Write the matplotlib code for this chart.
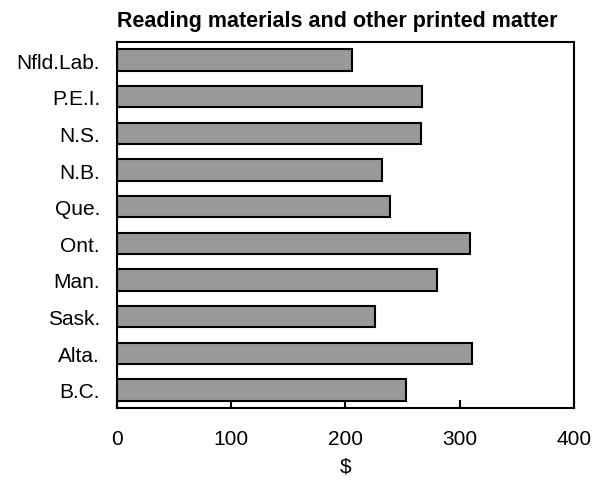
import matplotlib
matplotlib.use("Agg")
import matplotlib.pyplot as plt

provinces = ["Nfld.Lab.", "P.E.I.", "N.S.", "N.B.", "Que.", "Ont.", "Man.", "Sask.", "Alta.", "B.C."]
values = [206, 267, 266, 232, 239, 309, 280, 226, 311, 253]
x_ticks = [0, 100, 200, 300, 400]

plt.rcParams['font.family'] = ['Liberation Sans', 'DejaVu Sans']

fig = plt.figure(figsize=(6.07, 4.81), dpi=100)
ax = fig.add_axes([116.7/607, 1 - 409.3/481, (574 - 116.7)/607, (409.3 - 42.7)/481])

ypos = list(range(len(provinces)))
ax.barh(ypos, values, height=0.58, color="#999999", edgecolor="black", linewidth=1.5)
ax.set_ylim(len(provinces) - 0.5, -0.5)
ax.set_xlim(0, 400)
ax.set_yticks(ypos)
ax.set_yticklabels(provinces, fontsize=15)
ax.tick_params(axis='y', length=0, pad=12)
ax.set_xticks(x_ticks)
ax.set_xticklabels([str(t) for t in x_ticks], fontsize=15)
ax.tick_params(axis='x', direction='in', length=6, width=1.5, pad=15)
for s in ax.spines.values():
    s.set_linewidth(1.5)
ax.set_xlabel("$", fontsize=15, labelpad=6)
ax.text(0.483, 1.03, "Reading materials and other printed matter", transform=ax.transAxes,
        ha='center', va='bottom', fontsize=15.5, fontweight='bold')

fig.savefig("out.png", dpi=100)
